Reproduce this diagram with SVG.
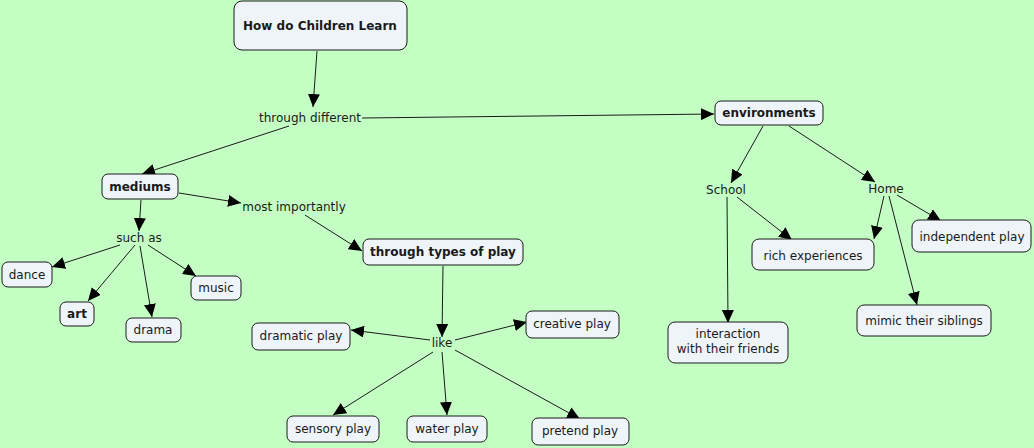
<svg xmlns="http://www.w3.org/2000/svg" width="1034" height="448" viewBox="0 0 1034 448">
<style>
.bg{fill:#C4FFC4}
.n rect{fill:#EEF4F8;stroke:#1a1a1a;stroke-width:1}
text{font-family:"DejaVu Sans","Verdana",sans-serif;font-size:12px;fill:#1a1a1a;text-anchor:middle}
.b{font-weight:bold}
#connectors line{stroke:#1a1a1a;stroke-width:1;marker-end:url(#ah)}
</style>
<defs>
<marker id="ah" markerUnits="userSpaceOnUse" markerWidth="13" markerHeight="12" refX="13" refY="6" orient="auto"><path d="M0,0 L13,6 L0,12 z" fill="#000"/></marker>
</defs>
<rect class="bg" x="0" y="0" width="1034" height="448"/>
<g id="connectors">
<line x1="317" y1="51" x2="313" y2="107"/>
<line x1="362" y1="118" x2="714" y2="114"/>
<line x1="289" y1="126" x2="142" y2="174"/>
<line x1="179" y1="193" x2="241" y2="203"/>
<line x1="305" y1="215" x2="362" y2="251"/>
<line x1="141" y1="200" x2="139" y2="231"/>
<line x1="120" y1="245" x2="52" y2="267"/>
<line x1="135" y1="245" x2="88" y2="301"/>
<line x1="140" y1="246" x2="152" y2="317"/>
<line x1="148" y1="245" x2="196" y2="276"/>
<line x1="443" y1="266" x2="442" y2="337"/>
<line x1="430" y1="340" x2="351" y2="330"/>
<line x1="455" y1="340" x2="527" y2="322"/>
<line x1="433" y1="352" x2="333" y2="415"/>
<line x1="442" y1="352" x2="447" y2="415"/>
<line x1="455" y1="350" x2="580" y2="419"/>
<line x1="763" y1="126" x2="731" y2="183"/>
<line x1="789" y1="126" x2="875" y2="182"/>
<line x1="737" y1="197" x2="792" y2="240"/>
<line x1="727" y1="197" x2="728" y2="323"/>
<line x1="884" y1="196" x2="874" y2="239"/>
<line x1="897" y1="195" x2="941" y2="221"/>
<line x1="889" y1="196" x2="917" y2="305"/>
</g>
<g id="n-how" class="n"><rect x="234" y="1" width="173" height="49" rx="8"/><text class="b" x="320" y="30">How do Children Learn</text></g>
<g id="n-through-different"><text x="310" y="122">through different</text></g>
<g id="n-environments" class="n"><rect x="715" y="101" width="108" height="24" rx="6"/><text class="b" x="769" y="117">environments</text></g>
<g id="n-mediums" class="n"><rect x="102" y="174" width="76" height="25" rx="6"/><text class="b" x="140" y="191">mediums</text></g>
<g id="n-most-importantly"><text x="294" y="211">most importantly</text></g>
<g id="n-such-as"><text x="139" y="242">such as</text></g>
<g id="n-dance" class="n"><rect x="2" y="262" width="50" height="25" rx="6"/><text x="27" y="279">dance</text></g>
<g id="n-art" class="n"><rect x="60" y="302" width="34" height="24" rx="6"/><text class="b" x="77" y="318">art</text></g>
<g id="n-drama" class="n"><rect x="126" y="318" width="55" height="24" rx="6"/><text x="153" y="334">drama</text></g>
<g id="n-music" class="n"><rect x="191" y="276" width="50" height="24" rx="6"/><text x="216" y="292">music</text></g>
<g id="n-types" class="n"><rect x="363" y="239" width="160" height="26" rx="6"/><text class="b" x="443" y="256">through types of play</text></g>
<g id="n-like"><text x="442" y="347">like</text></g>
<g id="n-dramatic" class="n"><rect x="252" y="323" width="98" height="27" rx="6"/><text x="301" y="340">dramatic play</text></g>
<g id="n-creative" class="n"><rect x="526" y="311" width="93" height="27" rx="6"/><text x="572" y="328">creative play</text></g>
<g id="n-sensory" class="n"><rect x="287" y="416" width="92" height="26" rx="6"/><text x="333" y="433">sensory play</text></g>
<g id="n-water" class="n"><rect x="407" y="416" width="80" height="26" rx="6"/><text x="447" y="433">water play</text></g>
<g id="n-pretend" class="n"><rect x="532" y="418" width="97" height="27" rx="6"/><text x="580" y="435">pretend play</text></g>
<g id="n-school"><text x="726" y="194">School</text></g>
<g id="n-home"><text x="886" y="193">Home</text></g>
<g id="n-rich" class="n"><rect x="752" y="239" width="122" height="31" rx="7"/><text x="813" y="260">rich experiences</text></g>
<g id="n-independent" class="n"><rect x="912" y="220" width="119" height="32" rx="7"/><text x="972" y="241">independent play</text></g>
<g id="n-mimic" class="n"><rect x="857" y="305" width="134" height="31" rx="7"/><text x="924" y="325">mimic their siblings</text></g>
<g id="n-interaction" class="n"><rect x="668" y="322" width="120" height="41" rx="7"/><text x="728" y="338">interaction</text><text x="728" y="353">with their friends</text></g>
</svg>
